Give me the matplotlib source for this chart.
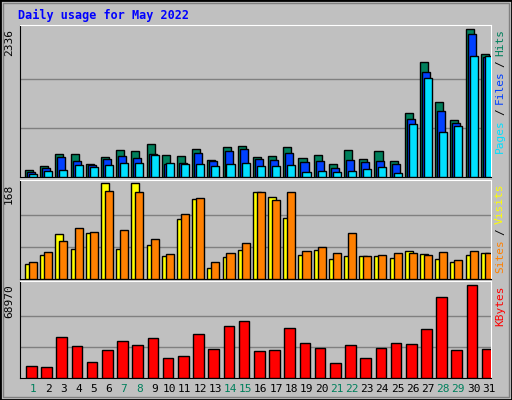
import matplotlib
matplotlib.use("Agg")
import matplotlib.pyplot as plt
from matplotlib.patches import Rectangle

days = list(range(1, 32))
weekend = {1, 7, 8, 14, 15, 21, 22, 28, 29}

hits = [116, 180, 370, 370, 211, 322, 433, 418, 528, 354, 338, 449, 275, 481, 497, 322,
        338, 481, 307, 354, 211, 433, 291, 418, 259, 1020, 1813, 1194, 909, 2336, 1940]
files = [85, 148, 322, 259, 196, 291, 338, 307, 370, 211, 227, 386, 259, 418, 449, 291,
         275, 386, 243, 259, 148, 275, 243, 259, 211, 925, 1670, 1052, 861, 2257, 1892]
pages = [53, 100, 116, 196, 164, 196, 227, 227, 354, 227, 211, 211, 180, 211, 227, 180,
         180, 196, 85, 100, 85, 100, 132, 164, 69, 846, 1575, 719, 814, 1908, 1908]
visits = [26, 42, 79, 53, 80, 168, 53, 168, 60, 40, 106, 141, 20, 38, 51, 152,
          144, 108, 42, 51, 35, 40, 40, 40, 37, 49, 44, 35, 29, 42, 46]
sites = [29, 47, 66, 89, 82, 155, 86, 153, 71, 44, 115, 142, 29, 46, 64, 152,
         139, 152, 49, 57, 46, 80, 40, 42, 46, 46, 42, 47, 33, 49, 46]
kbytes = [8558, 7803, 30457, 23660, 11578, 20640, 27436, 24415, 29701, 14599, 16109,
          32721, 21395, 38762, 41782, 19884, 20640, 37252, 25925, 22150, 10823, 24415,
          14599, 22150, 25925, 25170, 36497, 59905, 20640, 68970, 21395]

BG = "#C0C0C0"
C_HITS, C_FILES, C_PAGES = "#00805C", "#0040FF", "#00E0FF"
C_VISITS, C_SITES, C_KB = "#FFFF00", "#FF8000", "#FF0000"
FONT = "DejaVu Sans Mono"

W, H = 512, 400
fig = plt.figure(figsize=(W / 100, H / 100), dpi=100, facecolor=BG)
renderer = fig.canvas.get_renderer()

# bevelled outer border
fig.patches.append(Rectangle((0, 0), 1, 1, transform=fig.transFigure, fill=False,
                             edgecolor="black", lw=2))
fig.patches.append(Rectangle((3 / W, 3 / H), 1 - 6 / W, 1 - 6 / H, transform=fig.transFigure,
                             fill=False, edgecolor="#808080", lw=1))


def box(top, bottom):
    ax = fig.add_axes([20 / W, 1 - bottom / H, 471 / W, (bottom - top) / H])
    ax.set_facecolor(BG)
    ax.set_xlim(0, 31)
    ax.set_xticks([])
    ax.set_yticks([])
    for s in ("left", "bottom"):
        ax.spines[s].set_color("black")
    for s in ("right", "top"):
        ax.spines[s].set_color("white")
    return ax


def bars(ax, vals, x0, w, color):
    ax.bar([i + x0 for i in range(31)], vals, width=w, align="edge", color=color,
           edgecolor="black", linewidth=1, zorder=3)


def panel(ax, top, pad):
    ax.set_ylim(0, top * pad)
    for g in (top / 3, top * 2 / 3):
        ax.axhline(g, color="#808080", lw=1, zorder=1)
    ax.text(-6 / 471, top, str(top), transform=ax.get_yaxis_transform(), rotation=90,
            fontsize=8, family=FONT, ha="right", va="top")


# top panel
ax1 = box(25, 177)
panel(ax1, 2336, 1.03)
bars(ax1, hits, 0.33, 0.53, C_HITS)
bars(ax1, files, 0.46, 0.53, C_FILES)
bars(ax1, pages, 0.59, 0.53, C_PAGES)

# middle panel
ax2 = box(180, 279)
panel(ax2, 168, 1.035)
bars(ax2, visits, 0.33, 0.53, C_VISITS)
bars(ax2, sites, 0.59, 0.53, C_SITES)

# bottom panel
ax3 = box(281, 378)
panel(ax3, 68970, 1.04)
bars(ax3, kbytes, 0.4, 0.7, C_KB)


# right-hand legends, stacked top to bottom (text reads upward)
def stack(ax, parts):
    y = 1 - 4 / ax.bbox.height
    for txt, col in reversed(parts):
        t = ax.text(1 + 4 / 471, y, txt, transform=ax.transAxes, rotation=90, color=col,
                    fontsize=8, family=FONT, ha="left", va="top")
        h = t.get_window_extent(renderer).height
        y -= (h + 4) / ax.bbox.height


stack(ax1, [("Pages", C_PAGES), ("/", "black"), ("Files", C_FILES), ("/", "black"),
            ("Hits", C_HITS)])
stack(ax2, [("Sites", C_SITES), ("/", "black"), ("Visits", C_VISITS)])
stack(ax3, [("KBytes", C_KB)])

# day labels
for i, d in enumerate(days):
    ax3.text(i + 0.85, -0.06, str(d), transform=ax3.get_xaxis_transform(), ha="center",
             va="top", fontsize=8, family=FONT,
             color=C_HITS if d in weekend else "black")

fig.text(18 / W, 1 - 15 / H, "Daily usage for May 2022", color="#0000FF", fontsize=8.5,
         family=FONT, fontweight="bold", ha="left", va="center")

fig.savefig("out.png", dpi=100, facecolor=BG)
